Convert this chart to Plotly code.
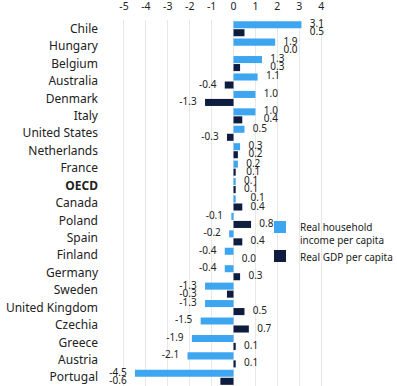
import plotly.graph_objects as go

countries = ["Chile", "Hungary", "Belgium", "Australia", "Denmark", "Italy",
             "United States", "Netherlands", "France", "OECD", "Canada", "Poland",
             "Spain", "Finland", "Germany", "Sweden", "United Kingdom", "Czechia",
             "Greece", "Austria", "Portugal"]
household = [3.1, 1.9, 1.3, 1.1, 1.0, 1.0, 0.5, 0.3, 0.2, 0.1, 0.1, -0.1,
             -0.2, -0.4, -0.4, -1.3, -1.3, -1.5, -1.9, -2.1, -4.5]
gdp = [0.5, 0.0, 0.3, -0.4, -1.3, 0.4, -0.3, 0.2, 0.1, 0.1, 0.4, 0.8,
       0.4, 0.0, 0.3, -0.3, 0.5, 0.7, 0.1, 0.1, -0.6]
x_ticks = [-5, -4, -3, -2, -1, 0, 1, 2, 3, 4]
series_names = ["Real household<br>income per capita", "Real GDP per capita"]

C_HH = "#3ea6f0"
C_GDP = "#0e1c40"
FONT = "Noto Sans"
TXT = "#222222"

pos = list(range(len(countries)))
ticktext = ["<b>OECD</b>" if c == "OECD" else c for c in countries]

fig = go.Figure()
fig.add_trace(go.Bar(y=pos, x=household, orientation="h", name=series_names[0],
                     marker=dict(color=C_HH, line=dict(width=0))))
fig.add_trace(go.Bar(y=pos, x=gdp, orientation="h", name=series_names[1],
                     marker=dict(color=C_GDP, line=dict(width=0))))

# value labels: positives right of the row's longest positive bar, negatives left of the row's longest negative bar
GAP = 0.38
OFF = 0.23
for vals, off in ((household, -OFF), (gdp, OFF)):
    xs, ys, txt, tp = [], [], [], []
    for i in pos:
        hi = max(0, household[i], gdp[i])
        lo = min(0, household[i], gdp[i])
        v = vals[i]
        if v >= 0:
            xs.append(hi + GAP)
            tp.append("middle right")
        else:
            xs.append(lo - GAP)
            tp.append("middle left")
        ys.append(i + off)
        txt.append(f"{v:.1f}")
    fig.add_trace(go.Scatter(x=xs, y=ys, text=txt, mode="text", textposition=tp,
                             textfont=dict(family=FONT, size=10, color=TXT),
                             showlegend=False, hoverinfo="skip", cliponaxis=False))

fig.update_layout(
    width=397, height=386,
    margin=dict(l=99, r=57, t=20, b=0, autoexpand=False),
    paper_bgcolor="white", plot_bgcolor="white",
    barmode="group", bargap=0.08, bargroupgap=0.12,
    font=dict(family=FONT, color=TXT),
    showlegend=True,
    legend=dict(x=0.668, y=0.47, xanchor="left", yanchor="top",
                font=dict(family=FONT, size=10, color=TXT),
                bgcolor="rgba(0,0,0,0)", valign="top",
                tracegroupgap=0, itemwidth=30),
)
fig.update_xaxes(side="top", range=[-6.14, 4.86], tickvals=x_ticks,
                 ticktext=[str(t) for t in x_ticks], automargin=False,
                 showgrid=True, gridcolor="#e8e8e8", gridwidth=1,
                 zeroline=False, showline=False,
                 ticks="outside", ticklen=5, tickcolor="rgba(0,0,0,0)",
                 tickfont=dict(family=FONT, size=10.5, color=TXT), fixedrange=True)
fig.update_yaxes(range=[20.5, -0.5], tickvals=pos, ticktext=ticktext, automargin=False,
                 showgrid=False, zeroline=False, showline=False, ticks="",
                 tickfont=dict(family=FONT, size=12, color=TXT), fixedrange=True)

fig.write_html("out.html", config={"displayModeBar": False},
               post_script="document.body.style.margin='0';document.body.style.padding='0';")
